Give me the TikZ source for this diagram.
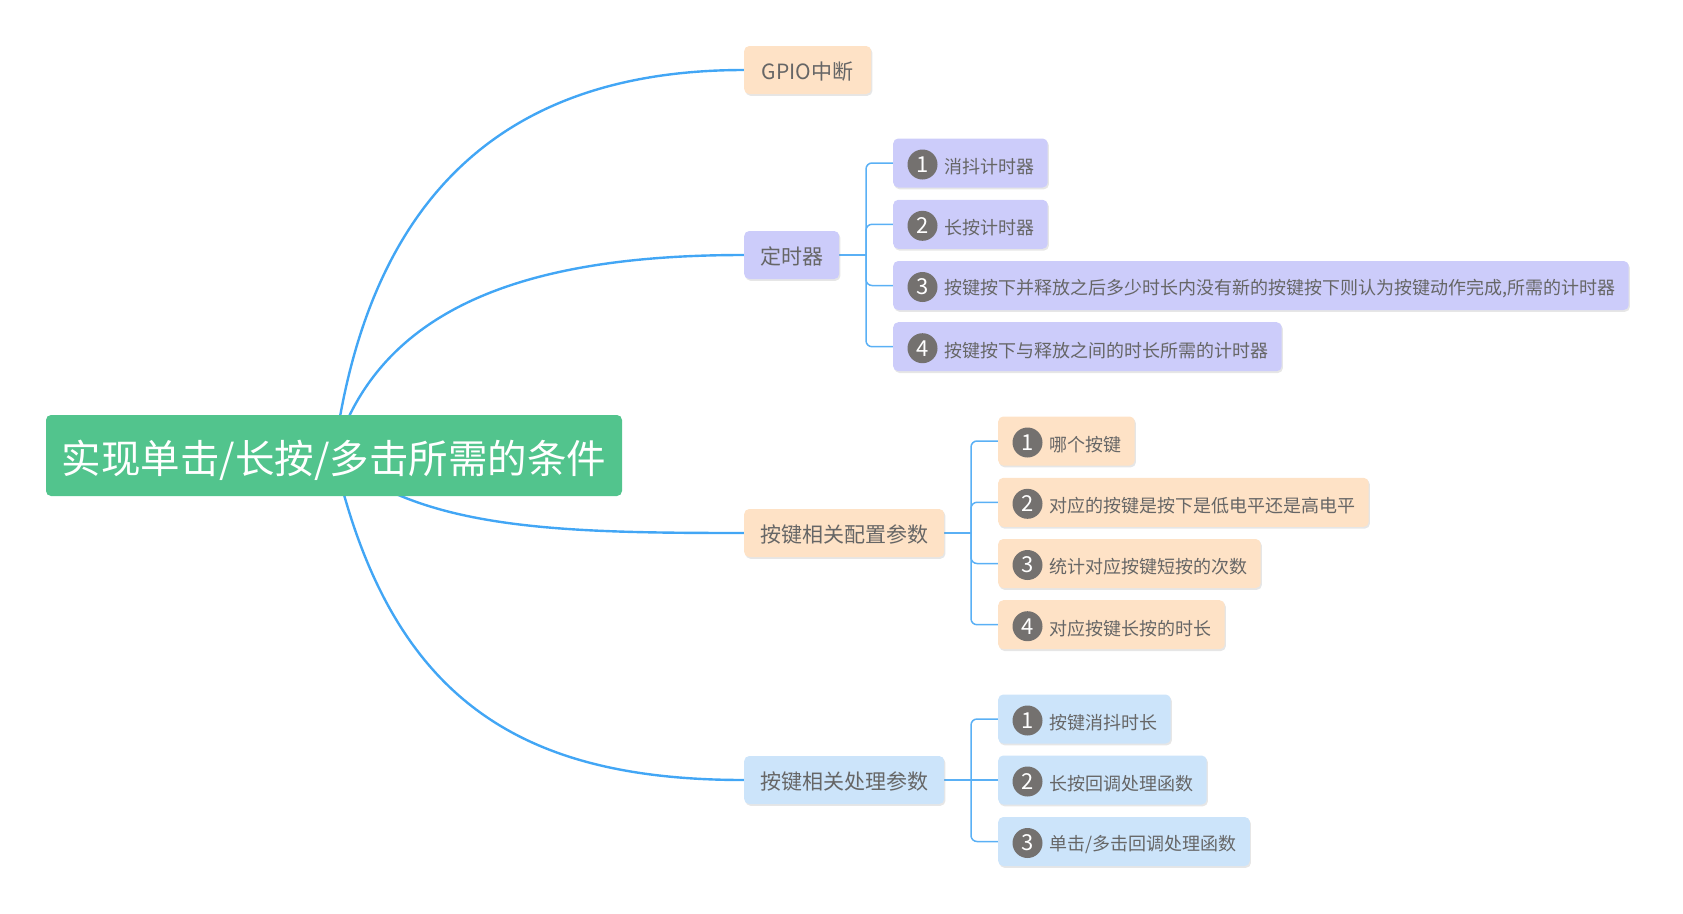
\documentclass[tikz,border=0pt]{standalone}
\usepackage{fontspec}
\setmainfont{Noto Sans CJK SC}
\usetikzlibrary{shadows}
\definecolor{rootgreen}{RGB}{82,196,141}
\definecolor{peach}{RGB}{254,226,198}
\definecolor{lav}{RGB}{204,204,250}
\definecolor{lblue}{RGB}{204,228,250}
\definecolor{txtgray}{RGB}{102,102,102}
\definecolor{bdggray}{RGB}{116,113,111}
\definecolor{lineblue}{RGB}{66,166,245}
\definecolor{brblue}{RGB}{90,176,245}
\pgfdeclarelayer{bg}
\pgfsetlayers{bg,main}
\tikzset{
  shad/.style={drop shadow={shadow xshift=1.2pt,shadow yshift=-1.8pt,opacity=.22,fill=black!45}},
  rootbox/.style={rounded corners=5pt, fill=rootgreen, text=white, minimum width=576pt, minimum height=81pt, inner sep=0pt, font=\fontsize{39.5pt}{44pt}\selectfont},
  topicbox/.style={rounded corners=5pt, shad, anchor=west, inner xsep=16pt, inner ysep=0pt, minimum height=48pt, text=txtgray, font=\fontsize{21pt}{25pt}\selectfont},
  subbox/.style={rounded corners=5pt, shad, anchor=west, inner xsep=13pt, inner ysep=0pt, minimum height=49pt, text=txtgray, font=\fontsize{18pt}{22pt}\selectfont},
  badge/.style={circle, fill=bdggray, text=white, inner sep=0pt, minimum size=30pt, font=\fontsize{22pt}{24pt}\selectfont},
  curve/.style={lineblue, line width=2.4pt},
  bracket/.style={brblue, line width=1.5pt, rounded corners=6pt},
}
\newcommand{\pad}{\hspace*{38.5pt}}
\newcommand{\dn}[2][3.5pt]{\raisebox{-#1}[\height][\depth]{#2}}
\begin{document}
\begin{tikzpicture}[x=1pt,y=-1pt]
\useasboundingbox (0,0) rectangle (1683,913);
% root
\node[rootbox] (root) at (334,455.5) {\dn[5pt]{实现单击/长按/多击所需的条件}};
% main topics
\node[topicbox, fill=peach, minimum width=127pt] (gpio) at (744,70) {\dn[2pt]{GPIO中断}};
\node[topicbox, fill=lav] (timer) at (744,255) {\dn[1.5pt]{定时器}};
\node[topicbox, fill=peach] (cfg) at (744,533) {\dn[1.5pt]{按键相关配置参数}};
\node[topicbox, fill=lblue] (proc) at (744,780) {\dn[1.5pt]{按键相关处理参数}};
% timer subtopics
\node[subbox, fill=lav] (t1) at (893,163) {\pad\dn{消抖计时器}};
\node[subbox, fill=lav] (t2) at (893,224.3) {\pad\dn{长按计时器}};
\node[subbox, fill=lav] (t3) at (893,285.5) {\pad\dn{按键按下并释放之后多少时长内没有新的按键按下则认为按键动作完成,所需的计时器}};
\node[subbox, fill=lav] (t4) at (893,346.7) {\pad\dn{按键按下与释放之间的时长所需的计时器}};
\node[badge] (tb1) at ([xshift=29.5pt,yshift=-1.5pt]t1.west) {1};
\node[badge] (tb2) at ([xshift=29.5pt,yshift=-1.5pt]t2.west) {2};
\node[badge] (tb3) at ([xshift=29.5pt,yshift=-1.5pt]t3.west) {3};
\node[badge] (tb4) at ([xshift=29.5pt,yshift=-1.5pt]t4.west) {4};
% config subtopics
\node[subbox, fill=peach] (c1) at (998,441) {\pad\dn{哪个按键}};
\node[subbox, fill=peach] (c2) at (998,502.3) {\pad\dn{对应的按键是按下是低电平还是高电平}};
\node[subbox, fill=peach] (c3) at (998,563.5) {\pad\dn{统计对应按键短按的次数}};
\node[subbox, fill=peach] (c4) at (998,624.7) {\pad\dn{对应按键长按的时长}};
\node[badge] (cb1) at ([xshift=29.5pt,yshift=-1.5pt]c1.west) {1};
\node[badge] (cb2) at ([xshift=29.5pt,yshift=-1.5pt]c2.west) {2};
\node[badge] (cb3) at ([xshift=29.5pt,yshift=-1.5pt]c3.west) {3};
\node[badge] (cb4) at ([xshift=29.5pt,yshift=-1.5pt]c4.west) {4};
% processing subtopics
\node[subbox, fill=lblue] (p1) at (998,719) {\pad\dn{按键消抖时长}};
\node[subbox, fill=lblue] (p2) at (998,780) {\pad\dn{长按回调处理函数}};
\node[subbox, fill=lblue] (p3) at (998,841.5) {\pad\dn{单击/多击回调处理函数}};
\node[badge] (pb1) at ([xshift=29.5pt,yshift=-1.5pt]p1.west) {1};
\node[badge] (pb2) at ([xshift=29.5pt,yshift=-1.5pt]p2.west) {2};
\node[badge] (pb3) at ([xshift=29.5pt,yshift=-1.5pt]p3.west) {3};
% bracket junctions
\coordinate (jt) at (866,255);
\coordinate (jc) at (971,533);
\coordinate (jp) at (971,780);
\begin{pgfonlayer}{bg}
\draw[curve] (root.center) .. controls (370,180) and (520,70) .. (gpio.west);
\draw[curve] (root.center) .. controls (380,300) and (540,255) .. (timer.west);
\draw[curve] (root.center) .. controls (420,530) and (560,533) .. (cfg.west);
\draw[curve] (root.center) .. controls (390,700) and (520,780) .. (proc.west);
\draw[brblue, line width=2pt] (timer.east) -- (jt);
\draw[brblue, line width=2pt] (cfg.east) -- (jc);
\draw[brblue, line width=2pt] (proc.east) -- (jp);
\draw[bracket] (jt) |- (t1.west);
\draw[bracket] (jt) |- (t2.west);
\draw[bracket] (jt) |- (t3.west);
\draw[bracket] (jt) |- (t4.west);
\draw[bracket] (jc) |- (c1.west);
\draw[bracket] (jc) |- (c2.west);
\draw[bracket] (jc) |- (c3.west);
\draw[bracket] (jc) |- (c4.west);
\draw[bracket] (jp) |- (p1.west);
\draw[bracket] (jp) -- (p2.west);
\draw[bracket] (jp) |- (p3.west);
\end{pgfonlayer}
\end{tikzpicture}
\end{document}
